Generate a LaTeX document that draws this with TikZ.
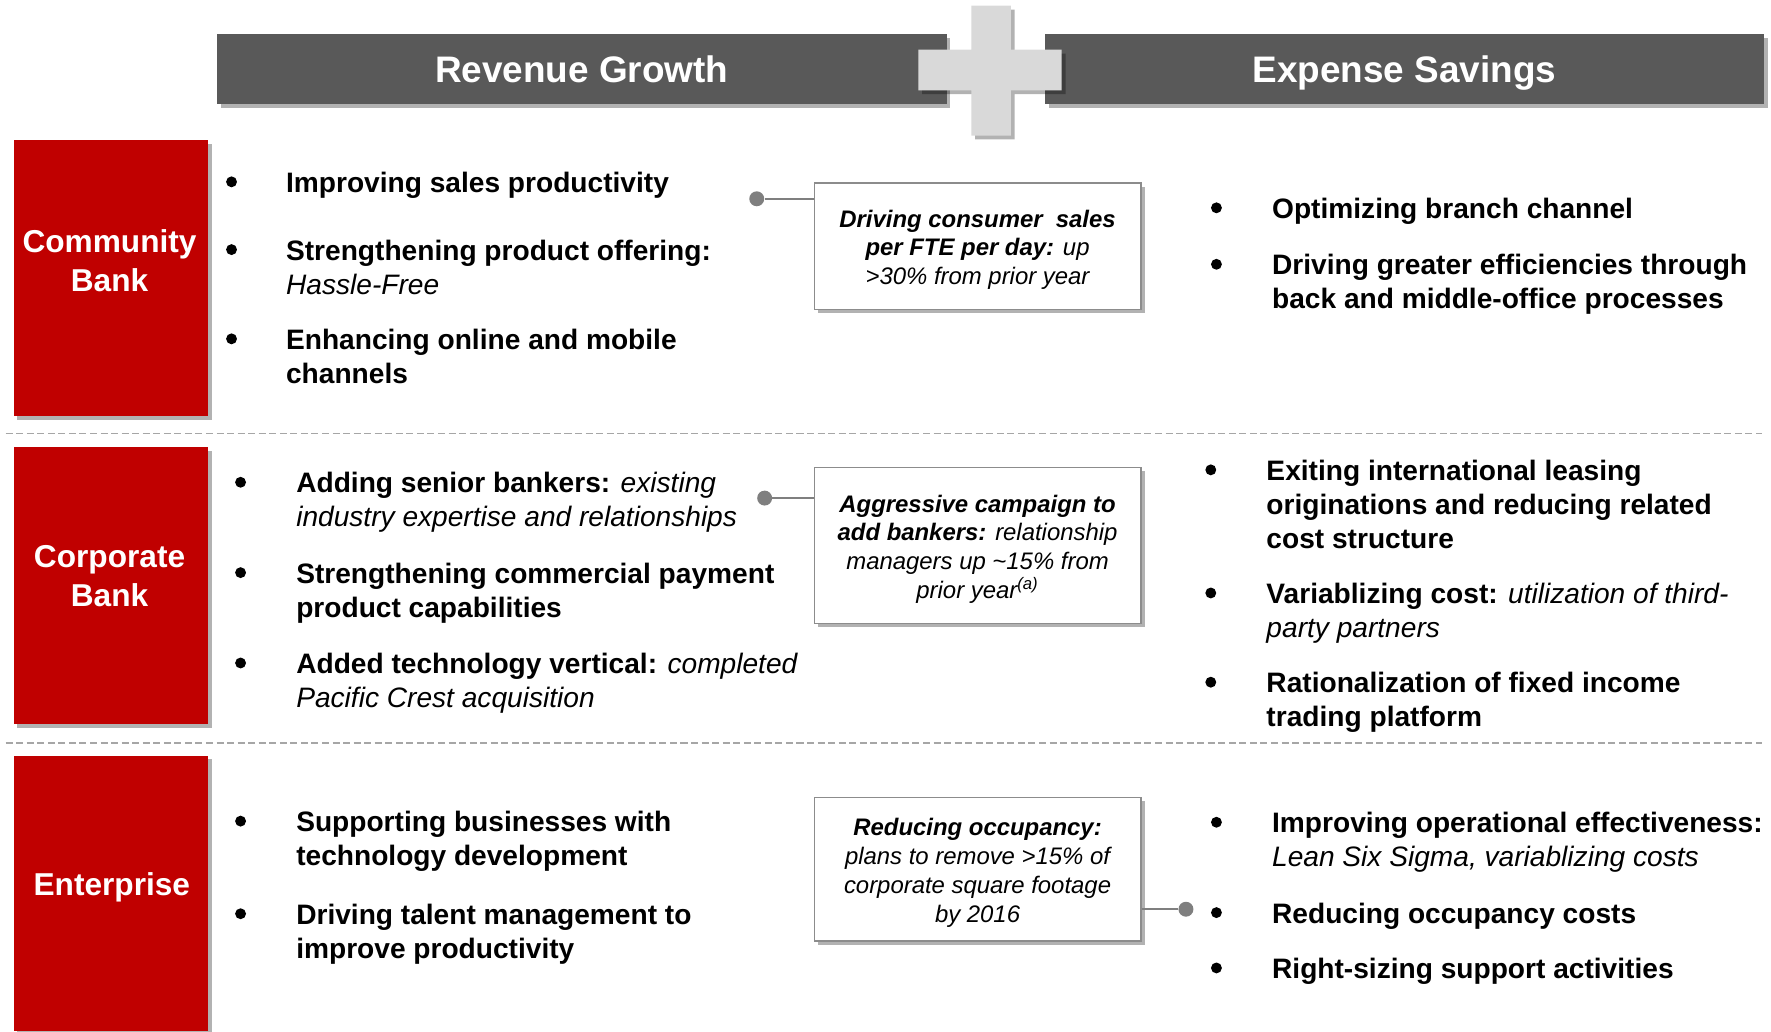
\documentclass[tikz,border=0pt]{standalone}
\usepackage{fontspec}
\setmainfont{Liberation Sans}
\usetikzlibrary{calc, positioning, shadows}
\def\px{0.6427pt}
\def\shadowshift{2.2pt}
\def\bulletsize{6.2pt}
\def\dotsize{8.5pt}
\definecolor{unitfillcolor}{HTML}{C00000}
\definecolor{headerfillcolor}{HTML}{595959}
\definecolor{plusfillcolor}{HTML}{D9D9D9}
\definecolor{calloutdrawcolor}{HTML}{8C8C8C}
\definecolor{connectorcolor}{HTML}{7F7F7F}
\definecolor{separatorcolor}{HTML}{A6A6A6}
\newcommand\detail[1]{{\mdseries\itshape #1}}
\newcommand\leadstrut{\rule{0pt}{13.9pt}}
\tikzset{
	% shadows
	soft_shadow/.style={
		drop shadow={
			shadow xshift=\shadowshift,
			shadow yshift=-\shadowshift,
			fill=black,
			opacity=0.3,
		},
	},
	% header
	header_bar/.style={
		fill=headerfillcolor,
		soft_shadow,
		shape=rectangle,
		minimum height=62*\px,
		inner sep=0,
		text=white,
		text height=15pt,
		text depth=0pt,
		font=\fontsize{21}{25}\selectfont\bfseries,
	},
	plus_sign/.style={
		fill=plusfillcolor,
		soft_shadow,
	},
	% business units
	unit_box/.style={
		fill=unitfillcolor,
		soft_shadow,
		shape=rectangle,
		minimum width=172*\px,
		inner sep=0,
	},
	unit_label/.style={
		text=white,
		align=center,
		inner sep=0,
		font=\fontsize{18}{22}\selectfont\bfseries,
	},
	% bullet lists
	bullet_dot/.style={
		fill=black,
		shape=circle,
		minimum size=\bulletsize,
		inner sep=0,
	},
	item/.style={
		anchor=north west,
		align=left,
		inner sep=0,
		font=\fontsize{16}{19.3}\selectfont\bfseries,
	},
	% callouts
	callout/.style={
		draw=calloutdrawcolor,
		fill=white,
		line width=0.9pt,
		soft_shadow,
		shape=rectangle,
		minimum width=289*\px,
		align=center,
		font=\fontsize{13.6}{16.4}\selectfont\itshape,
	},
	% connections
	connector_dot/.style={
		fill=connectorcolor,
		shape=circle,
		minimum size=\dotsize,
		inner sep=0,
	},
	connector/.style={
		draw=connectorcolor,
		line width=1.1pt,
	},
	separator/.style={
		draw=separatorcolor,
		line width=0.8pt,
		dash pattern=on 4pt off 2pt,
	},
}
\begin{document}
\begin{tikzpicture}[x=\px, y=-\px]
		\useasboundingbox (0,0) rectangle (1568,913);

		% Header
		\node[
			header_bar,
			minimum width=646*\px,
		] (revenue_bar) at (515,61) {Revenue Growth};
		\node[
			header_bar,
			minimum width=637*\px,
		] (expense_bar) at (1243.5,61) {Expense Savings};
		%% Plus
		\fill[
			plus_sign
		] (860,5) -- (895,5) -- (895,44) -- (940,44) -- (940,80) -- (895,80)
			-- (895,120) -- (860,120) -- (860,80) -- (813,80) -- (813,44) -- (860,44) -- cycle;

		% Separators
		\draw[separator] (5,384) -- (1560,384);
		\draw[separator] (5,658) -- (1560,658);

		% Business units
		\node[
			unit_box,
			minimum height=244*\px,
		] (community_box) at (98,246) {};
		\node[unit_label] (community_label) at (97,231) {Community\\Bank};
		\node[
			unit_box,
			minimum height=245*\px,
		] (corporate_box) at (98,518.5) {};
		\node[unit_label] (corporate_label) at (97,510) {Corporate\\Bank};
		\node[
			unit_box,
			minimum height=244*\px,
		] (enterprise_box) at (98,791) {};
		\node[unit_label] (enterprise_label) at (99,786) {Enterprise};

		% Revenue growth items
		\foreach \y/\txt [count=\i] in {
			161/{Improving sales productivity},
			221/{Strengthening product offering:\\\detail{Hassle-Free}},
			300/{Enhancing online and mobile\\channels}} {
			\node[bullet_dot] (community_revenue_dot\i) at (205,\y) {};
			\node[item] (community_revenue\i) at (253,\y-9) {\txt};
		}
		\foreach \y/\txt [count=\i] in {
			427/{Adding senior bankers: \detail{existing}\\\detail{industry expertise and relationships}},
			507/{Strengthening commercial payment\\product capabilities},
			587/{Added technology vertical: \detail{completed}\\\detail{Pacific Crest acquisition}}} {
			\node[bullet_dot] (corporate_revenue_dot\i) at (213,\y) {};
			\node[item] (corporate_revenue\i) at (262,\y-9) {\txt};
		}
		\foreach \y/\txt [count=\i] in {
			727/{Supporting businesses with\\technology development},
			809/{Driving talent management to\\improve productivity}} {
			\node[bullet_dot] (enterprise_revenue_dot\i) at (213,\y) {};
			\node[item] (enterprise_revenue\i) at (262,\y-9) {\txt};
		}

		% Expense savings items
		\foreach \y/\txt [count=\i] in {
			184/{Optimizing branch channel},
			234/{Driving greater efficiencies through\\back and middle-office processes}} {
			\node[bullet_dot] (community_expense_dot\i) at (1077,\y) {};
			\node[item] (community_expense\i) at (1126,\y-9) {\txt};
		}
		\foreach \y/\txt [count=\i] in {
			416/{Exiting international leasing\\originations and reducing related\\cost structure},
			525/{Variablizing cost: \detail{utilization of third-}\\\detail{party partners}},
			604/{Rationalization of fixed income\\trading platform}} {
			\node[bullet_dot] (corporate_expense_dot\i) at (1072,\y) {};
			\node[item] (corporate_expense\i) at (1121,\y-9) {\txt};
		}
		\foreach \y/\txt [count=\i] in {
			728/{Improving operational effectiveness:\\\detail{Lean Six Sigma, variablizing costs}},
			808/{Reducing occupancy costs},
			857/{Right-sizing support activities}} {
			\node[bullet_dot] (enterprise_expense_dot\i) at (1077,\y) {};
			\node[item] (enterprise_expense\i) at (1126,\y-9) {\txt};
		}

		% Callouts
		\node[
			callout,
			minimum height=112*\px,
		] (sales_callout) at (865.5,218) {\leadstrut\textbf{Driving consumer\ \ sales}\\\textbf{per FTE per day:} up\\>30\% from prior year};
		\node[
			callout,
			minimum height=138*\px,
		] (bankers_callout) at (865.5,483) {\leadstrut\textbf{Aggressive campaign to}\\\textbf{add bankers:} relationship\\managers up \textasciitilde15\% from\\prior year\textsuperscript{(a)}};
		\node[
			callout,
			minimum height=127*\px,
		] (occupancy_callout) at (865.5,769.5) {\leadstrut\textbf{Reducing occupancy:}\\plans to remove >15\% of\\corporate square footage\\by 2016};

		% Connections
		\node[connector_dot] (sales_dot) at (670,176) {};
		\draw[connector] (sales_dot) -- (sales_dot -| sales_callout.west);
		\node[connector_dot] (bankers_dot) at (677,441) {};
		\draw[connector] (bankers_dot) -- (bankers_dot -| bankers_callout.west);
		\node[connector_dot] (occupancy_dot) at (1050,805) {};
		\draw[connector] (occupancy_callout.east |- occupancy_dot) -- (occupancy_dot);
	\end{tikzpicture}
\end{document}
